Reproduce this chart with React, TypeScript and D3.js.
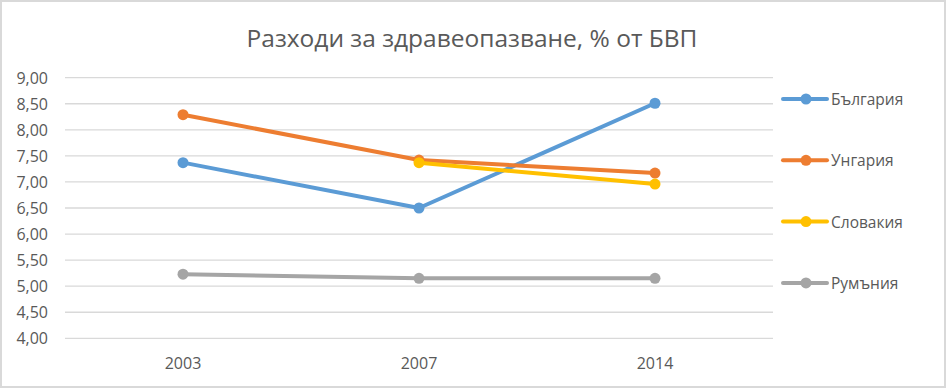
import React from 'react';
import { scaleLinear, scalePoint, line, formatLocale } from 'd3';

const years = ['2003', '2007', '2014'];
const bulgaria = [7.37, 6.5, 8.51];
const hungary = [8.29, 7.42, 7.17];
const slovakia = [null, 7.37, 6.96];
const romania = [5.23, 5.15, 5.15];
const yTicks = [4, 4.5, 5, 5.5, 6, 6.5, 7, 7.5, 8, 8.5, 9];

const series = [
  { name: 'България', values: bulgaria, color: '#5B9BD5' },
  { name: 'Унгария', values: hungary, color: '#ED7D31' },
  { name: 'Словакия', values: slovakia, color: '#FFC000' },
  { name: 'Румъния', values: romania, color: '#A5A5A5' },
];

const width = 947;
const height = 389;
const font = '"Open Sans", sans-serif';
const textColor = '#595959';

const fmt = formatLocale({ decimal: ',', thousands: ' ', grouping: [3], currency: ['', ''] }).format('.2f');

function App() {
  const xScale = scalePoint<string>().domain(years).range([65, 773]).padding(0.5);
  const yScale = scaleLinear().domain([4, 9]).range([338.3, 77.7]);

  const pathGen = line<number | null>()
    .defined(d => d != null)
    .x((_, i) => xScale(years[i]) as number)
    .y(d => yScale(d as number));

  return (
    <svg width={width} height={height} style={{ position: 'absolute', left: 0, top: 0, background: '#fff' }}>
      <rect x={1} y={1} width={width - 3} height={height - 3} fill="#fff" stroke="#D9D9D9" strokeWidth={2} />
      <text x={472} y={47} textAnchor="middle" fontFamily={font} fontSize={24.5} fill={textColor}>
        Разходи за здравеопазване, % от БВП
      </text>

      {yTicks.map(t => (
        <g key={t}>
          <line x1={65} x2={773} y1={yScale(t)} y2={yScale(t)} stroke="#D9D9D9" strokeWidth={1.3} />
          <text x={48} y={yScale(t) + 6} textAnchor="end" fontFamily={font} fontSize={16} fill={textColor}>
            {fmt(t)}
          </text>
        </g>
      ))}

      {years.map(y => (
        <text key={y} x={xScale(y)} y={369} textAnchor="middle" fontFamily={font} fontSize={16} fill={textColor}>
          {y}
        </text>
      ))}

      {series.map(s => (
        <g key={s.name}>
          <path d={pathGen(s.values) || ''} fill="none" stroke={s.color} strokeWidth={4} strokeLinecap="round" strokeLinejoin="round" />
          {s.values.map((v, i) =>
            v == null ? null : (
              <circle key={i} cx={xScale(years[i])} cy={yScale(v)} r={5.5} fill={s.color} />
            )
          )}
        </g>
      ))}

      {series.map((s, i) => {
        const cy = 99 + i * 61.3;
        return (
          <g key={s.name}>
            <line x1={783} x2={827} y1={cy} y2={cy} stroke={s.color} strokeWidth={4} strokeLinecap="round" />
            <circle cx={806} cy={cy} r={5.5} fill={s.color} />
            <text x={831} y={cy + 6} fontFamily={font} fontSize={15.5} fill={textColor}>
              {s.name}
            </text>
          </g>
        );
      })}
    </svg>
  );
}

export default App;
